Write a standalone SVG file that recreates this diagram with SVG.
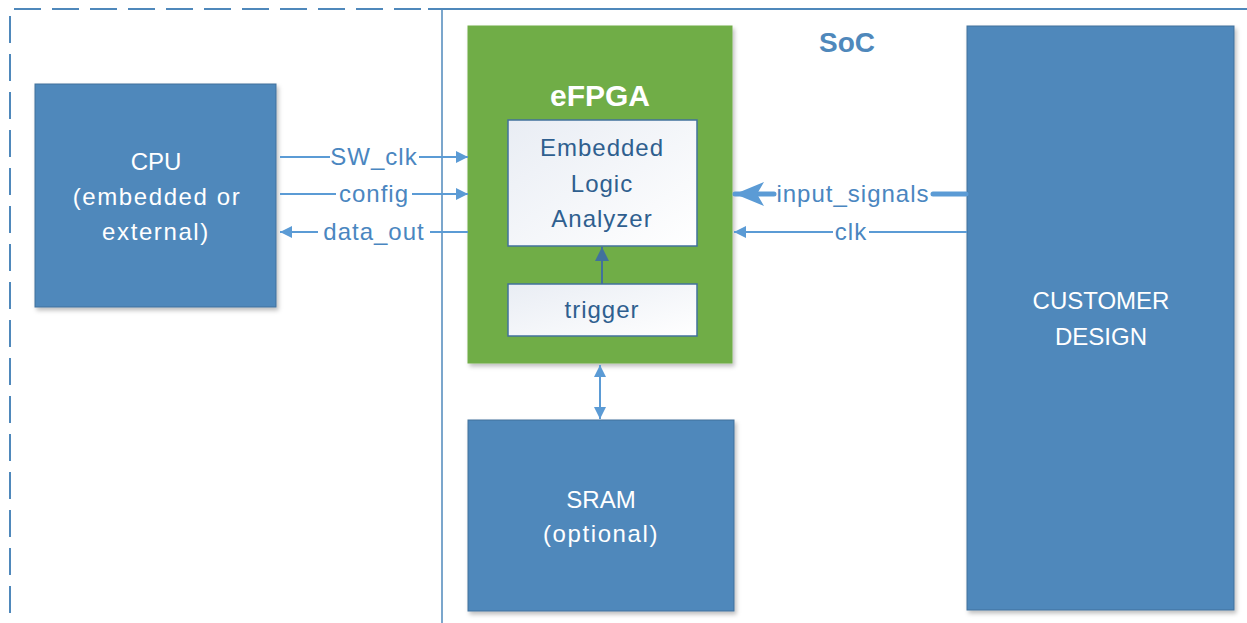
<svg xmlns="http://www.w3.org/2000/svg" width="1247" height="623" viewBox="0 0 1247 623">
<style>
.box{fill:#4f88bb;stroke:#41719c;stroke-width:1}
.wt{font-family:"Liberation Sans",Arial,sans-serif;font-size:24px;fill:#ffffff;text-anchor:middle}
.wl{letter-spacing:1.6px}
.dt{font-family:"Liberation Sans",Arial,sans-serif;font-size:24px;fill:#2f5f8f;text-anchor:middle;letter-spacing:1px}
.lbl{font-family:"Liberation Sans",Arial,sans-serif;font-size:24px;fill:#4a86c0;text-anchor:middle;letter-spacing:1px}
.ln{stroke:#5b9bd5;stroke-width:2;fill:none}
.inner{fill:url(#g);stroke:#41719c;stroke-width:1.5}
</style>
<defs>
<linearGradient id="g" x1="0" y1="0" x2="1" y2="1">
<stop offset="0" stop-color="#e9edf4"/>
<stop offset="1" stop-color="#ffffff"/>
</linearGradient>
<filter id="sh" x="-5%" y="-5%" width="115%" height="115%">
<feDropShadow dx="2" dy="3" stdDeviation="2" flood-color="#000" flood-opacity="0.25"/>
</filter>
<marker id="a" viewBox="0 0 12 12" refX="12" refY="6" markerWidth="12" markerHeight="12" markerUnits="userSpaceOnUse" orient="auto-start-reverse">
<path d="M0,0 L12,6 L0,12 z" fill="#5b9bd5"/>
</marker>
<marker id="ad" viewBox="0 0 14 14" refX="14" refY="7" markerWidth="14" markerHeight="14" markerUnits="userSpaceOnUse" orient="auto">
<path d="M0,0 L14,7 L0,14 z" fill="#41719c"/>
</marker>
<marker id="ab" viewBox="0 0 29 24" refX="29" refY="12" markerWidth="29" markerHeight="24" markerUnits="userSpaceOnUse" orient="auto">
<path d="M0,0 L29,12 L0,24 L7,12 z" fill="#5b9bd5"/>
</marker>
</defs>

<g id="boundary">
<path d="M14,9 H428" stroke="#4f88bb" stroke-width="2" stroke-dasharray="27,11" fill="none"/>
<path d="M428,9 H1247" stroke="#4f88bb" stroke-width="2" fill="none"/>
<path d="M10,16 V623" stroke="#4f88bb" stroke-width="2" stroke-dasharray="27,11" fill="none"/>
<path d="M442,9 V623" stroke="#4f88bb" stroke-width="1.5" fill="none"/>
<text x="847" y="52" style="font-family:'Liberation Sans',Arial,sans-serif;font-size:28px;font-weight:bold;fill:#4f88bb;text-anchor:middle">SoC</text>
</g>

<g id="cpu">
<rect class="box" x="35" y="84" width="241" height="223" filter="url(#sh)"/>
<text class="wt" x="156" y="170">CPU</text>
<text class="wt wl" x="157" y="205">(embedded or</text>
<text class="wt wl" x="156" y="240">external)</text>
</g>

<g id="efpga">
<rect x="468" y="26" width="264" height="337" fill="#70ad47" stroke="#70ad47" filter="url(#sh)"/>
<text x="600" y="106" style="font-family:'Liberation Sans',Arial,sans-serif;font-size:30px;font-weight:bold;fill:#ffffff;text-anchor:middle">eFPGA</text>
</g>

<g id="ela">
<rect class="inner" x="508" y="120" width="189" height="126"/>
<text class="dt" x="602" y="156">Embedded</text>
<text class="dt" x="602" y="192">Logic</text>
<text class="dt" x="602" y="227">Analyzer</text>
</g>

<g id="trigger">
<rect class="inner" x="508" y="284" width="189" height="52"/>
<text class="dt" x="602" y="318">trigger</text>
</g>

<g id="sram">
<rect class="box" x="468" y="420" width="266" height="191" filter="url(#sh)"/>
<text class="wt" x="601" y="508">SRAM</text>
<text class="wt wl" x="601" y="542">(optional)</text>
</g>

<g id="customer">
<rect class="box" x="967" y="26" width="267" height="584" filter="url(#sh)"/>
<text class="wt" x="1101" y="309">CUSTOMER</text>
<text class="wt" x="1101" y="345">DESIGN</text>
</g>

<g id="connectors">
<path class="ln" d="M280,157 H330 M419,157 H468" marker-end="url(#a)"/>
<text class="lbl" x="374" y="165">SW_clk</text>
<path class="ln" d="M280,194 H336 M412,194 H468" marker-end="url(#a)"/>
<text class="lbl" x="374" y="202">config</text>
<path class="ln" d="M468,232 H430 M318,232 H280" marker-end="url(#a)"/>
<text class="lbl" x="374" y="240">data_out</text>
<path d="M966,194 H933 M774,194 H735" stroke="#5b9bd5" stroke-width="5" stroke-linecap="round" fill="none" marker-end="url(#ab)"/>
<text class="lbl" x="853" y="202">input_signals</text>
<path class="ln" d="M967,232 H869 M833,232 H734" marker-end="url(#a)"/>
<text class="lbl" x="851" y="240">clk</text>
<line x1="602" y1="284" x2="602" y2="247" stroke="#41719c" stroke-width="2" marker-end="url(#ad)"/>
<line class="ln" x1="600" y1="365" x2="600" y2="419" marker-start="url(#a)" marker-end="url(#a)"/>
</g>
</svg>
